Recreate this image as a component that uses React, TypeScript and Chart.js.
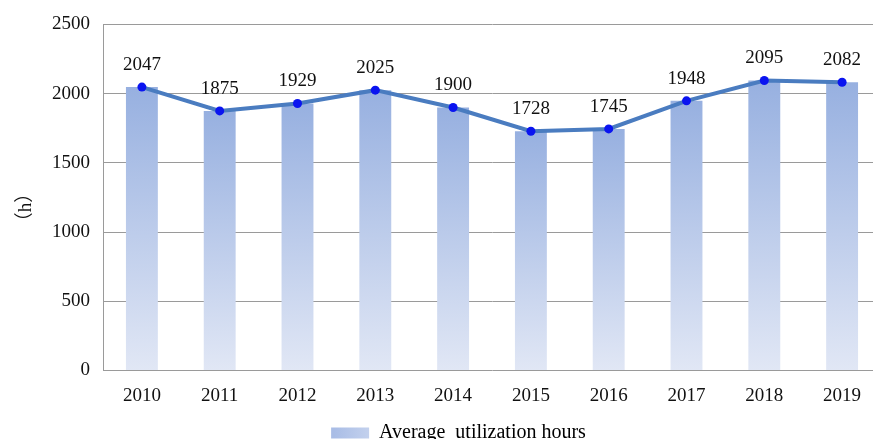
import React, { useEffect, useRef } from "react";
import { Chart, registerables } from "chart.js";

Chart.register(...registerables);

const years = ["2010", "2011", "2012", "2013", "2014", "2015", "2016", "2017", "2018", "2019"];
const hours = [2047, 1875, 1929, 2025, 1900, 1728, 1745, 1948, 2095, 2082];
const yTicks = [0, 500, 1000, 1500, 2000, 2500];
const seriesName = "Average  utilization hours";
const yTitle = "（h）";

const FONT = "'Liberation Serif', 'Times New Roman', 'Noto Sans CJK SC', serif";
const FS = 19;

const labelPlugin = {
  id: "pointLabels",
  afterLayout(chart: any) {
    if (chart.legend) {
      chart.legend.left += 18;
      chart.legend.right += 18;
    }
  },
  afterDatasetsDraw(chart: any) {
    const meta = chart.getDatasetMeta(1);
    const ctx = chart.ctx;
    ctx.save();
    ctx.font = `${FS}px ${FONT}`;
    ctx.fillStyle = "#111";
    ctx.textAlign = "center";
    ctx.textBaseline = "middle";
    meta.data.forEach((el: any, i: number) => {
      ctx.fillText(String(hours[i]), el.x, el.y - 22);
    });
    // y axis title
    const area = chart.chartArea;
    ctx.translate(26, (area.top + area.bottom) / 2 + 10);
    ctx.rotate(-Math.PI / 2);
    ctx.fillText(yTitle, 0, 0);
    ctx.restore();
  },
};

function barGradient(ctx: any) {
  const chart = ctx.chart;
  const area = chart.chartArea;
  const ys = chart.scales && chart.scales.y;
  if (!area || !ys || ctx.type !== "data") return "#b4c6ea";
  const top = ys.getPixelForValue(hours[ctx.dataIndex]);
  const base = ys.getPixelForValue(0);
  const g = chart.ctx.createLinearGradient(0, top, 0, base);
  g.addColorStop(0, "#97b0e0");
  g.addColorStop(1, "#e1e7f5");
  return g;
}

export default function App() {
  const ref = useRef<HTMLCanvasElement>(null);
  useEffect(() => {
    const canvas = ref.current!;
    const chart = new Chart(canvas, {
      type: "bar",
      data: {
        labels: years,
        datasets: [
          {
            type: "bar",
            label: seriesName,
            data: hours,
            backgroundColor: barGradient,
            categoryPercentage: 1,
            barPercentage: 0.41,
            order: 2,
          },
          {
            type: "line",
            label: "line",
            data: hours,
            borderColor: "#4a7cc0",
            borderWidth: 4,
            pointBackgroundColor: "#0a14f0",
            pointBorderColor: "#0a14f0",
            pointRadius: 4.5,
            pointBorderWidth: 0,
            tension: 0,
            order: 1,
          },
        ],
      },
      options: {
        responsive: false,
        animation: false,
        layout: { padding: { left: 0, right: 9, top: 12, bottom: 0 } },
        plugins: {
          tooltip: { enabled: false },
          legend: {
            display: true,
            position: "bottom",
            labels: {
              generateLabels: (chart: any) => {
                const g = chart.ctx.createLinearGradient(334, 0, 373, 0);
                g.addColorStop(0, "#a9bde6");
                g.addColorStop(1, "#c6d3ee");
                return [
                  {
                    text: seriesName,
                    fillStyle: g,
                    strokeStyle: "rgba(0,0,0,0)",
                    lineWidth: 0,
                    datasetIndex: 0,
                  },
                ];
              },
              boxWidth: 38,
              boxHeight: 11,
              color: "#111",
              font: { family: FONT, size: 20 },
              padding: 2.5,
            },
          },
        },
        scales: {
          x: {
            grid: { display: false, drawTicks: false },
            border: { display: false },
            ticks: {
              color: "#111",
              font: { family: FONT, size: FS },
              padding: 14,
            },
            afterFit: (s: any) => {
              s.height = 50;
            },
          },
          y: {
            min: 0,
            max: 2500,
            afterBuildTicks: (s: any) => {
              s.ticks = yTicks.map((v) => ({ value: v }));
            },
            grid: { color: "#9a9a9a", lineWidth: 1, drawTicks: false },
            border: { display: true, color: "#9a9a9a", width: 1 },
            ticks: {
              color: "#111",
              font: { family: FONT, size: FS },
              padding: 13,
              callback: (v: any) => String(v),
            },
            afterFit: (s: any) => {
              s.width = 103;
            },
          },
        },
      },
      plugins: [labelPlugin],
    });
    return () => chart.destroy();
  }, []);
  return (
    <div
      style={{
        position: "fixed",
        left: 0,
        top: 0,
        width: 873,
        height: 439,
        overflow: "hidden",
        background: "#fff",
      }}
    >
      <canvas ref={ref} width={890} height={453} style={{ display: "block" }} />
    </div>
  );
}
